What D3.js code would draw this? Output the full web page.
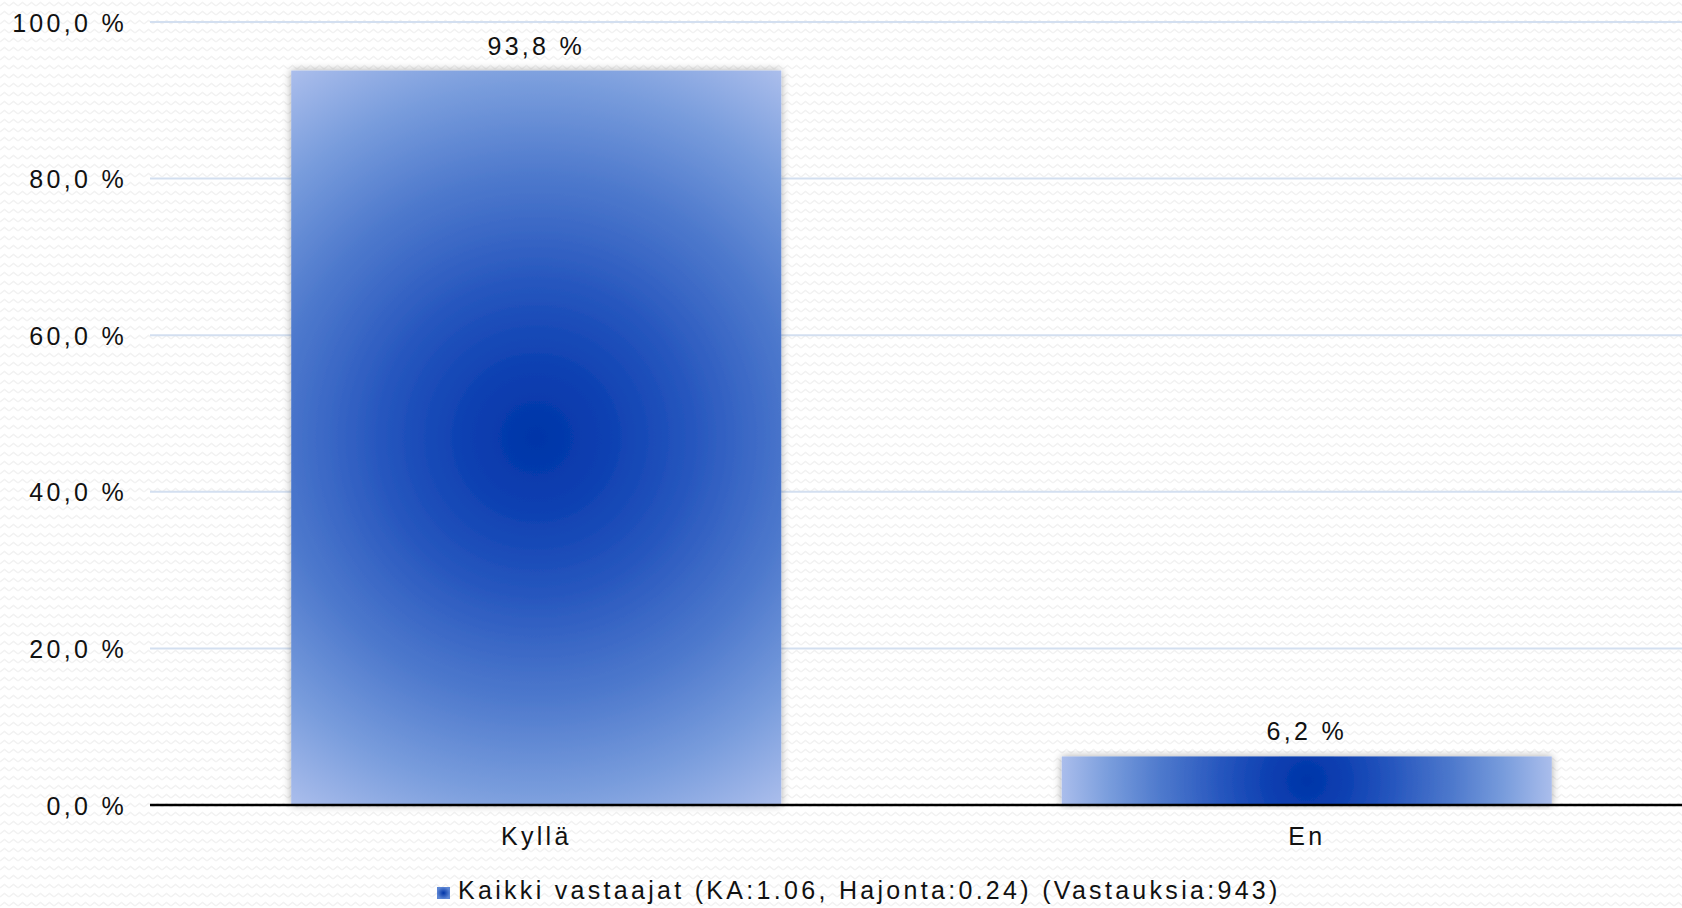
<!DOCTYPE html>
<html>
<head>
<meta charset="utf-8">
<script src="https://cdn.jsdelivr.net/npm/d3@7"></script>
<style>
    html, body { margin: 0; padding: 0; background: #ffffff; }
    svg text { font-family: "Liberation Sans", Arial, sans-serif; font-size: 25px; letter-spacing: 3.3px; fill: #111; }
</style>
</head>
<body>
<div id="chart"></div>
<script>
// chart values
var categories = ["Kyllä", "En"];
var values = [93.8, 6.2];
var yTicks = [0, 20, 40, 60, 80, 100];
var legendLabel = "Kaikki vastaajat (KA:1.06, Hajonta:0.24) (Vastauksia:943)";

var fullWidth = 1682, fullHeight = 908;
var margin = { top: 22, right: 0, bottom: 103, left: 150 };
var height = fullHeight - margin.top - margin.bottom;

function fmt(v) {
    return v.toFixed(1).replace(".", ",") + " %";
}

var svg = d3.select("#chart")
    .append("svg")
    .attr("width", fullWidth)
    .attr("height", fullHeight);

var defs = svg.append("defs");

// faint zigzag background texture
var pat = defs.append("pattern")
    .attr("id", "zig")
    .attr("patternUnits", "userSpaceOnUse")
    .attr("width", 9)
    .attr("height", 9);
pat.append("path")
    .attr("d", "M0,6 L4.5,2.5 L9,6")
    .attr("fill", "none")
    .attr("stroke", "#f2f2f2")
    .attr("stroke-width", 1.5);
svg.append("rect")
    .attr("width", fullWidth)
    .attr("height", fullHeight)
    .attr("fill", "url(#zig)");

// soft shadow round the bars
var shadow = defs.append("filter")
    .attr("id", "shadow")
    .attr("x", "-10%").attr("y", "-10%")
    .attr("width", "120%").attr("height", "120%");
shadow.append("feGaussianBlur")
    .attr("in", "SourceAlpha")
    .attr("stdDeviation", 4);
shadow.append("feComponentTransfer")
    .append("feFuncA").attr("type", "linear").attr("slope", 0.35);
var merge = shadow.append("feMerge");
merge.append("feMergeNode");
merge.append("feMergeNode").attr("in", "SourceGraphic");

var g = svg.append("g")
    .attr("transform", "translate(0," + margin.top + ")");

// scales
var x = d3.scaleBand()
    .domain(categories)
    .range([151, 1692])
    .paddingInner(0.364)
    .paddingOuter(0.182);

var y = d3.scaleLinear()
    .domain([0, 100])
    .range([height, 0]);

// gridlines
g.selectAll(".grid")
    .data(yTicks.slice(1))
    .enter()
    .append("line")
    .attr("x1", margin.left)
    .attr("x2", fullWidth)
    .attr("y1", function (d) { return y(d); })
    .attr("y2", function (d) { return y(d); })
    .attr("stroke", "#d3dff0")
    .attr("stroke-width", 2);

// y axis labels
var yAxis = g.append("g")
    .attr("transform", "translate(" + 127 + ",0)")
    .call(d3.axisLeft(y).tickValues(yTicks).tickFormat(fmt).tickSize(0).tickPadding(0));
yAxis.select(".domain").remove();
yAxis.selectAll("text")
    .attr("font-size", null)
    .attr("font-family", null)
    .attr("dy", "0.36em");

// gradients, one per bar, centred on the bar
values.forEach(function (v, i) {
    var bx = x(categories[i]), bw = x.bandwidth();
    var by = y(v), bh = height - y(v);
    var grad = defs.append("radialGradient")
        .attr("id", "grad" + i)
        .attr("gradientUnits", "userSpaceOnUse")
        .attr("cx", bx + bw / 2)
        .attr("cy", by + bh / 2)
        .attr("r", Math.sqrt(bw * bw + bh * bh) / 2);
    var stops = [[0, "#0035a8"], [0.15, "#0c3fb1"], [0.35, "#2656be"], [0.6, "#4f7acd"], [0.8, "#789cdc"], [1, "#abbeec"]];
    stops.forEach(function (s) {
        grad.append("stop").attr("offset", s[0]).attr("stop-color", s[1]);
    });
});

// bars
g.selectAll(".bar")
    .data(values)
    .enter()
    .append("rect")
    .attr("x", function (d, i) { return x(categories[i]); })
    .attr("y", function (d) { return y(d); })
    .attr("width", x.bandwidth())
    .attr("height", function (d) { return height - y(d); })
    .attr("fill", function (d, i) { return "url(#grad" + i + ")"; })
    .attr("filter", "url(#shadow)");

// value labels
g.selectAll(".val")
    .data(values)
    .enter()
    .append("text")
    .attr("x", function (d, i) { return x(categories[i]) + x.bandwidth() / 2; })
    .attr("y", function (d) { return y(d) - 16; })
    .attr("text-anchor", "middle")
    .text(function (d) { return fmt(d); });

// x axis
var xAxis = g.append("g")
    .attr("transform", "translate(0," + height + ")")
    .call(d3.axisBottom(x).tickSize(0).tickPadding(0));
xAxis.select(".domain").remove();
xAxis.selectAll("text")
    .attr("font-size", null)
    .attr("font-family", null)
    .attr("dy", 0)
    .attr("y", 40);

g.append("line")
    .attr("x1", margin.left)
    .attr("x2", fullWidth)
    .attr("y1", height)
    .attr("y2", height)
    .attr("stroke", "#000")
    .attr("stroke-width", 2.5);

// legend
var legend = svg.append("g")
    .attr("transform", "translate(437,887)");
var lg = defs.append("radialGradient").attr("id", "legGrad");
lg.append("stop").attr("offset", 0).attr("stop-color", "#0034a7");
lg.append("stop").attr("offset", 1).attr("stop-color", "#5d86d4");
legend.append("rect")
    .attr("width", 13)
    .attr("height", 12)
    .attr("fill", "url(#legGrad)");
legend.append("text")
    .attr("x", 21)
    .attr("y", 12)
    .text(legendLabel);
</script>
</body>
</html>
